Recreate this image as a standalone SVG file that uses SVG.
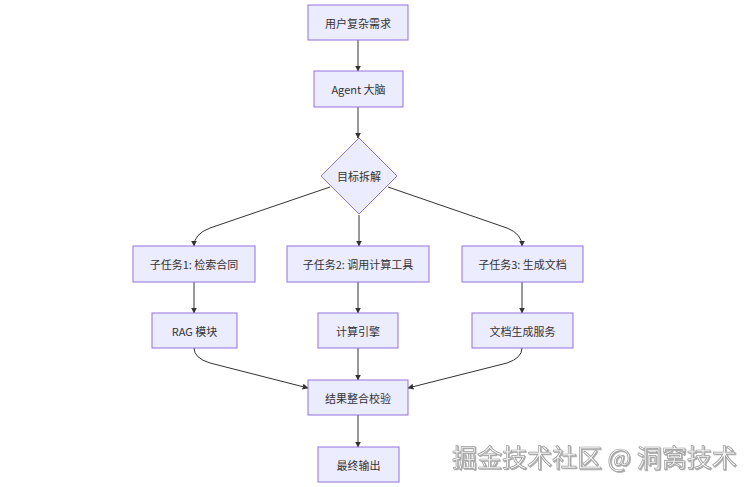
<svg xmlns="http://www.w3.org/2000/svg" width="754" height="487" viewBox="0 0 754 487">
<style>
.n{fill:#ECECFF;stroke:#9370DB;stroke-width:1}
.t{font-family:"Noto Sans CJK SC","Liberation Sans",sans-serif;font-size:11px;fill:#333;text-anchor:middle;dominant-baseline:central}
.e{fill:none;stroke:#333;stroke-width:1;marker-end:url(#arr)}
.wm{font-family:"Noto Sans CJK SC","Liberation Sans",sans-serif;font-size:25px;fill:#f7f7f7;stroke:#9a9a9a;stroke-width:0.7;filter:url(#sh)}
</style>
<defs>
<marker id="arr" viewBox="0 0 10 10" refX="9" refY="5" markerWidth="6" markerHeight="6" orient="auto" markerUnits="userSpaceOnUse">
<path d="M0,0 L10,5 L0,10 z" fill="#333"/>
</marker>
<filter id="sh" x="-10%" y="-30%" width="120%" height="160%">
<feDropShadow dx="1" dy="1" stdDeviation="0.6" flood-color="#777" flood-opacity="0.6"/>
</filter>
</defs>
<rect width="754" height="487" fill="#fff"/>
<g id="edges">
<path class="e" d="M358,40 L358,71"/>
<path class="e" d="M358,107 L358,138"/>
<path class="e" d="M330,187 L210,228 Q194,234 194,246"/>
<path class="e" d="M359,215 L359,246"/>
<path class="e" d="M388,187 L507,228 Q522,234 522,246"/>
<path class="e" d="M194,282 L194,313"/>
<path class="e" d="M358,282 L358,313"/>
<path class="e" d="M522,282 L522,313"/>
<path class="e" d="M194,348 Q194,358 210,363 L308,388"/>
<path class="e" d="M358,348 L358,380"/>
<path class="e" d="M522,348 Q522,358 507,363 L408,388"/>
<path class="e" d="M358,415 L358,447"/>
</g>
<g id="n1"><rect class="n" x="308" y="5" width="100" height="35"/><text class="t" x="358" y="22.5">用户复杂需求</text></g>
<g id="n2"><rect class="n" x="314" y="71" width="89" height="36"/><text class="t" x="358.5" y="89">Agent 大脑</text></g>
<g id="n3"><polygon class="n" points="359,138 397,176 359,214 321,176"/><text class="t" x="359" y="176">目标拆解</text></g>
<g id="n4"><rect class="n" x="133" y="246" width="122" height="36"/><text class="t" x="194" y="264">子任务1: 检索合同</text></g>
<g id="n5"><rect class="n" x="287" y="246" width="142" height="36"/><text class="t" x="358" y="264">子任务2: 调用计算工具</text></g>
<g id="n6"><rect class="n" x="462" y="246" width="121" height="36"/><text class="t" x="522.5" y="264">子任务3: 生成文档</text></g>
<g id="n7"><rect class="n" x="152" y="313" width="85" height="35"/><text class="t" x="194.5" y="330.5">RAG 模块</text></g>
<g id="n8"><rect class="n" x="318" y="313" width="80" height="35"/><text class="t" x="358" y="330.5">计算引擎</text></g>
<g id="n9"><rect class="n" x="472" y="313" width="101" height="35"/><text class="t" x="522.5" y="330.5">文档生成服务</text></g>
<g id="n10"><rect class="n" x="308" y="380" width="100" height="35"/><text class="t" x="358" y="397.5">结果整合校验</text></g>
<g id="n11"><rect class="n" x="318" y="447" width="81" height="35"/><text class="t" x="358.5" y="464.5">最终输出</text></g>
<text class="wm" x="452" y="467">掘金技术社区 @ 洞窝技术</text>
</svg>
